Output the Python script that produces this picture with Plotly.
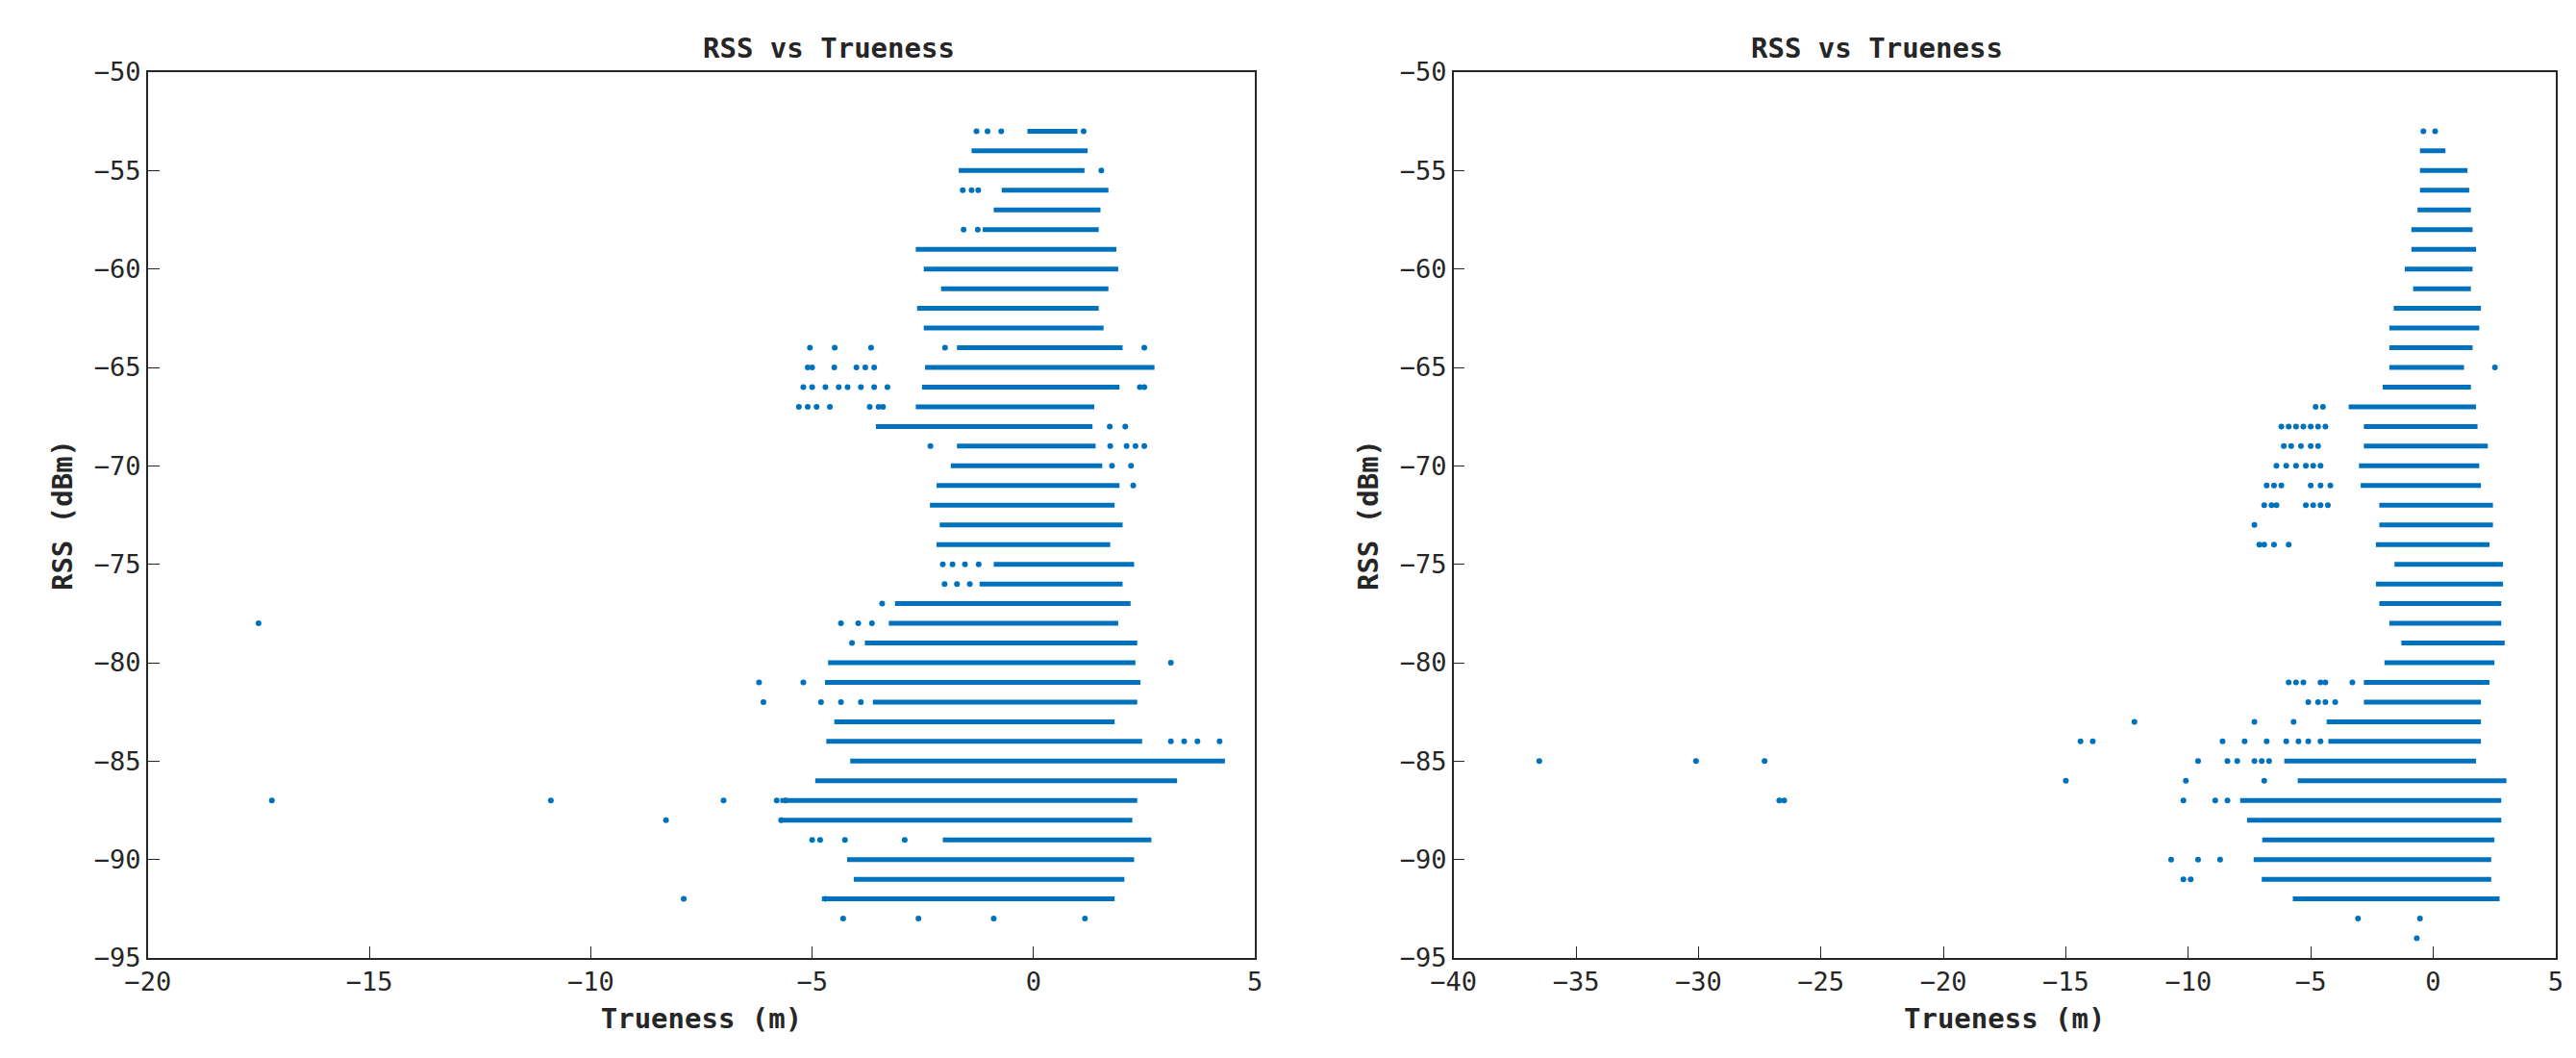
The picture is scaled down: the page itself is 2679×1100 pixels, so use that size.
import plotly.graph_objects as go

# RSS levels (dBm) with the dense run of samples at each level: [start, end] in metres
L_RSS = [-53, -54, -55, -56, -57, -58, -59, -60, -61, -62, -63, -64, -65, -66, -67, -68,
         -69, -70, -71, -72, -73, -74, -75, -76, -77, -78, -79, -80, -81, -82, -83, -84,
         -85, -86, -87, -88, -89, -90, -91, -92]
L_START = [-0.14, -1.40, -1.69, -0.72, -0.90, -1.15, -2.66, -2.48, -2.09, -2.63, -2.48, -1.73,
           -2.45, -2.52, -2.66, -3.56, -1.73, -1.87, -2.19, -2.34, -2.12, -2.19, -0.90, -1.22,
           -3.13, -3.27, -3.81, -4.64, -4.71, -3.63, -4.50, -4.68, -4.14, -4.93, -5.72, -5.72,
           -2.05, -4.21, -4.06, -4.78]
L_END = [0.99, 1.22, 1.15, 1.69, 1.51, 1.47, 1.87, 1.91, 1.69, 1.47, 1.58, 2.01,
         2.73, 1.94, 1.37, 1.33, 1.40, 1.55, 1.94, 1.83, 2.01, 1.73, 2.27, 2.01,
         2.19, 1.91, 2.34, 2.30, 2.41, 2.34, 1.83, 2.45, 4.32, 3.24, 2.34, 2.23,
         2.66, 2.27, 2.05, 1.83]
# isolated samples
L_PT_X = [-1.29, -1.04, -0.73, 1.13, 1.53, -1.60, -1.40, -1.25, -1.58, -1.26,
          -5.05, -4.49, -3.67, -2.00, 2.50, -5.10, -5.00, -4.50, -4.00, -3.80, -3.60,
          -5.20, -5.00, -4.70, -4.40, -4.20, -3.90, -3.60, -3.30, 2.40, 2.50,
          -5.30, -5.10, -4.90, -4.60, -3.70, -3.50, -3.40, 1.72, 2.07,
          -2.33, 1.73, 2.10, 2.30, 2.50, 1.77, 2.20, 2.25,
          -2.05, -1.83, -1.55, -1.24, -2.01, -1.73, -1.44, -3.42, -4.35, -3.96, -3.65,
          -4.10, 3.10, -5.20, -4.80, -4.35, -3.90, 3.10, 3.40, 3.70, 4.20,
          -4.82, -4.26, -2.91, -4.30, -2.60, -0.90, 1.16,
          -17.5, -17.2, -10.9, -8.3, -7.0, -7.9, -6.2, -6.1, -5.8, -5.7, -5.6, -5.0, -4.7]
L_PT_Y = [-53, -53, -53, -53, -55, -56, -56, -56, -58, -58,
          -64, -64, -64, -64, -64, -65, -65, -65, -65, -65, -65,
          -66, -66, -66, -66, -66, -66, -66, -66, -66, -66,
          -67, -67, -67, -67, -67, -67, -67, -68, -68,
          -69, -69, -69, -69, -69, -70, -70, -71,
          -75, -75, -75, -75, -76, -76, -76, -77, -78, -78, -78,
          -79, -80, -81, -82, -82, -82, -84, -84, -84, -84,
          -89, -89, -89, -93, -93, -93, -93,
          -78, -87, -87, -88, -87, -92, -81, -82, -87, -88, -87, -89, -92]

R_RSS = [-54, -55, -56, -57, -58, -59, -60, -61, -62, -63, -64, -65, -66, -67, -68, -69,
         -70, -71, -72, -73, -74, -75, -76, -77, -78, -79, -80, -81, -82, -83, -84, -85,
         -86, -87, -88, -89, -90, -91, -92]
R_START = [-0.54, -0.54, -0.54, -0.64, -0.89, -0.89, -1.16, -0.82, -1.61, -1.79, -1.79, -1.79,
           -2.06, -3.45, -2.83, -2.83, -3.03, -2.96, -2.20, -2.20, -2.34, -1.58, -2.34, -2.20,
           -1.79, -1.30, -1.99, -2.83, -2.83, -4.35, -4.28, -6.08, -5.53, -7.88, -7.60, -6.98,
           -7.33, -7.00, -5.73]
R_END = [0.50, 1.40, 1.47, 1.54, 1.61, 1.75, 1.61, 1.54, 1.95, 1.88, 1.61, 1.26,
         1.54, 1.75, 1.81, 2.23, 1.88, 1.95, 2.44, 2.44, 2.30, 2.85, 2.85, 2.78,
         2.78, 2.92, 2.50, 2.30, 1.95, 1.95, 1.95, 1.75, 2.99, 2.78, 2.78, 2.50,
         2.37, 2.37, 2.71]
R_PT_X = [-0.40, 0.08, 2.52, -4.80, -4.50,
          -6.2, -5.9, -5.6, -5.3, -5.0, -4.7, -4.4, -6.1, -5.8, -5.4, -5.0, -4.7,
          -6.4, -6.0, -5.6, -5.2, -4.9, -4.6, -6.8, -6.5, -6.2, -5.0, -4.6, -4.2,
          -6.9, -6.6, -6.4, -5.2, -4.9, -4.6, -4.3, -7.3, -7.1, -6.9, -6.5, -5.9,
          -5.9, -5.6, -5.3, -4.6, -4.4, -3.3, -5.1, -4.7, -4.4, -4.0,
          -7.3, -5.7, -12.2, -8.6, -7.7, -6.8, -6.0, -5.5, -5.1, -4.6, -14.4, -13.9,
          -9.6, -8.4, -8.0, -7.3, -7.0, -6.7, -10.1, -6.9, -15.0, -10.2, -8.9, -8.4,
          -10.7, -9.6, -8.7, -10.2, -9.9, -3.07, -0.54, -0.67,
          -36.5, -30.1, -27.3, -26.7, -26.5]
R_PT_Y = [-53, -53, -65, -67, -67,
          -68, -68, -68, -68, -68, -68, -68, -69, -69, -69, -69, -69,
          -70, -70, -70, -70, -70, -70, -71, -71, -71, -71, -71, -71,
          -72, -72, -72, -72, -72, -72, -72, -73, -74, -74, -74, -74,
          -81, -81, -81, -81, -81, -81, -82, -82, -82, -82,
          -83, -83, -83, -84, -84, -84, -84, -84, -84, -84, -84, -84,
          -85, -85, -85, -85, -85, -85, -86, -86, -86, -87, -87, -87,
          -90, -90, -90, -91, -91, -93, -93, -94,
          -85, -85, -85, -87, -87]

BLUE = '#0072BD'
FONT = 'DejaVu Sans Mono'


def runs(rss, start, end):
    xs, ys = [], []
    for r, a, b in zip(rss, start, end):
        xs += [a, b, None]
        ys += [r, r, None]
    return xs, ys


fig = go.Figure()
for i, (rss, st, en, px_, py_) in enumerate([(L_RSS, L_START, L_END, L_PT_X, L_PT_Y),
                                             (R_RSS, R_START, R_END, R_PT_X, R_PT_Y)]):
    ax = '' if i == 0 else '2'
    xs, ys = runs(rss, st, en)
    fig.add_trace(go.Scatter(x=xs, y=ys, mode='lines', line=dict(color=BLUE, width=5),
                             xaxis='x' + ax, yaxis='y' + ax, showlegend=False))
    fig.add_trace(go.Scatter(x=px_, y=py_, mode='markers', marker=dict(color=BLUE, size=6),
                             xaxis='x' + ax, yaxis='y' + ax, showlegend=False))

axis_style = dict(showline=True, mirror=True, linecolor='#262626', linewidth=1.5,
                  ticks='inside', ticklen=12, tickcolor='#262626', showgrid=False,
                  zeroline=False, tickfont=dict(family=FONT, size=27, color='#262626'))
title_font = dict(family=FONT, size=29, color='#262626')

fig.update_layout(
    width=2679, height=1100, plot_bgcolor='white', paper_bgcolor='white',
    margin=dict(l=0, r=0, t=67, b=112),
    xaxis=dict(domain=[0.046, 0.481], range=[-20, 5], dtick=5,
               title=dict(text='<b>Trueness (m)</b>', font=title_font, standoff=14), **axis_style),
    yaxis=dict(range=[-95, -50], dtick=5,
               title=dict(text='<b>RSS (dBm)</b>', font=title_font, standoff=14), **axis_style),
    xaxis2=dict(domain=[0.559, 0.992], range=[-40, 5], dtick=5, anchor='y2',
                title=dict(text='<b>Trueness (m)</b>', font=title_font, standoff=14), **axis_style),
    yaxis2=dict(range=[-95, -50], dtick=5, anchor='x2',
                title=dict(text='<b>RSS (dBm)</b>', font=title_font, standoff=14), **axis_style),
    annotations=[
        dict(text='<b>RSS vs Trueness</b>', x=0.2635, y=1, xref='paper', yref='paper',
             yanchor='bottom', yshift=6, showarrow=False, font=title_font),
        dict(text='<b>RSS vs Trueness</b>', x=0.7755, y=1, xref='paper', yref='paper',
             yanchor='bottom', yshift=6, showarrow=False, font=title_font),
    ],
)

fig.write_html("out.html")
